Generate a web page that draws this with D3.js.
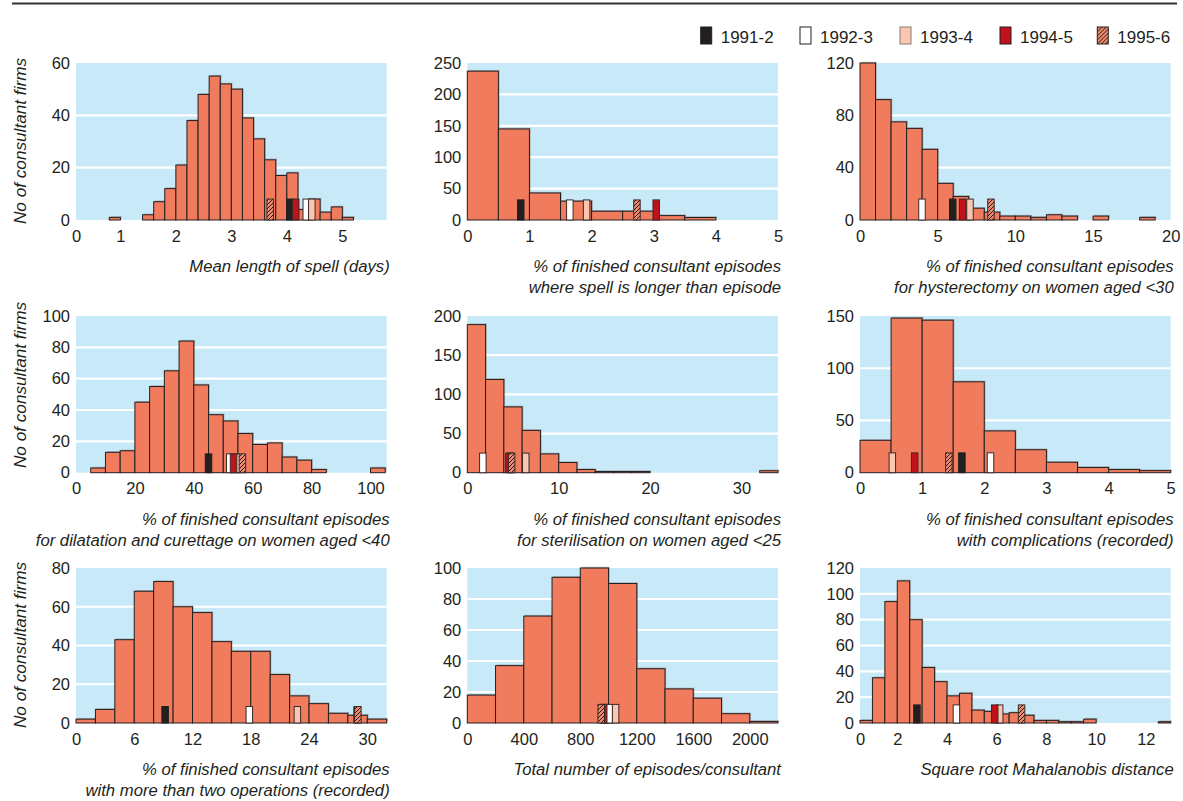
<!DOCTYPE html>
<html>
<head>
<meta charset="utf-8">
<script src="https://cdn.jsdelivr.net/npm/d3@7"></script>
<style>
  body { margin: 0; background: #fff; }
  text { font-family: "Liberation Sans", Arial, sans-serif; fill: #231f20; }
  .tick text { font-size: 16.5px; }
  .xtitle { font-style: italic; font-size: 16.7px; }
  .ytitle { font-style: italic; font-size: 17.2px; }
  .legend text { font-size: 17px; }
</style>
</head>
<body>
<svg width="1183" height="801"></svg>
<script>
// Years shown as small marker bars
const years = ["1991-2", "1992-3", "1993-4", "1994-5", "1995-6"];

// Panel 1 - mean length of spell
const spellStarts = [0.8, 1.4, 1.6, 1.8, 2.0, 2.2, 2.4, 2.6, 2.8, 3.0, 3.2, 3.4, 3.6, 3.8, 4.0, 4.2, 4.4, 4.6, 4.8, 5.0];
const spellCounts = [1, 2, 7, 12, 21, 38, 48, 55, 52, 50, 39, 31, 23, 17, 18, 4, 8, 3, 5, 1];
const spellYears = [4.06, 4.35, 4.45, 4.16, 3.70];
const spellTicks = [0.2, 1, 2, 3, 4, 5];
const spellTickLabels = ["0", "1", "2", "3", "4", "5"];

// Panel 2 - spell longer than episode
const longerStarts = [0, 0.5, 1, 1.5, 2, 2.5, 3, 3.5];
const longerCounts = [237, 145, 43, 30, 14, 14, 7, 4];
const longerYears = [0.86, 1.65, 1.92, 3.04, 2.73];
const longerTicks = [0, 1, 2, 3, 4, 5];

// Panel 3 - hysterectomy on women aged <30
const hystStarts = [0, 1, 2, 3, 4, 5, 6, 7, 8, 9, 10, 11, 12, 13, 15, 18];
const hystCounts = [120, 92, 75, 70, 54, 28, 18, 9, 6, 3, 3, 2, 4, 3, 3, 2];
const hystYears = [5.97, 3.99, 7.08, 6.61, 8.43];
const hystTicks = [0, 5, 10, 15, 20];

// Panel 4 - dilatation and curettage on women aged <40
const dcStarts = [5, 10, 15, 20, 25, 30, 35, 40, 45, 50, 55, 60, 65, 70, 75, 80, 100];
const dcCounts = [3, 13, 14, 45, 55, 65, 84, 56, 37, 33, 25, 18, 19, 10, 8, 2, 3];
const dcYears = [45.0, 52.2, 54.7, 53.5, 56.5];
const dcTicks = [0, 20, 40, 60, 80, 100];

// Panel 5 - sterilisation on women aged <25
const sterStarts = [0, 2, 4, 6, 8, 10, 12, 14, 16, 18, 32];
const sterCounts = [189, 119, 84, 54, 24, 13, 4, 1.5, 1.5, 1.5, 2.5];
const sterYears = [4.75, 1.7, 6.4, 4.55, 4.85];
const sterTicks = [0, 10, 20, 30];

// Panel 6 - complications
const compStarts = [0, 0.5, 1, 1.5, 2, 2.5, 3, 3.5, 4, 4.5];
const compCounts = [31, 148, 146, 87, 40, 22, 10, 5, 3, 2];
const compYears = [1.64, 2.10, 0.52, 0.88, 1.43];
const compTicks = [0, 1, 2, 3, 4, 5];

// Panel 7 - more than two operations
const opsStarts = [0, 2, 4, 6, 8, 10, 12, 14, 16, 18, 20, 22, 24, 26, 28, 30];
const opsCounts = [2, 7, 43, 68, 73, 60, 57, 42, 37, 37, 25, 14, 10, 5, 4, 2];
const opsYears = [9.18, 17.85, 22.8, 28.95, 29.03];
const opsTicks = [0, 6, 12, 18, 24, 30];

// Panel 8 - total episodes per consultant
const totalStarts = [0, 200, 400, 600, 800, 1000, 1200, 1400, 1600, 1800, 2000];
const totalCounts = [18, 37, 69, 94, 100, 90, 35, 22, 16, 6, 1];
const totalYears = [975, 1006, 1050, 966, 948];
const totalTicks = [0, 400, 800, 1200, 1600, 2000];

// Panel 9 - square root Mahalanobis distance
const mahaStarts = [0.5, 1.0, 1.5, 2.0, 2.5, 3.0, 3.5, 4.0, 4.5, 5.0, 5.5, 6.0, 6.5, 7.0, 7.5, 8.0, 8.5, 9.0, 9.5, 12.5];
const mahaCounts = [2, 35, 94, 110, 80, 43, 32, 21, 23, 10, 9, 7, 8, 6, 2, 2, 1, 1, 3, 1];
const mahaYears = [2.79, 4.38, 6.12, 5.92, 7.0];
const mahaTicks = [0.5, 2, 4, 6, 8, 10, 12];
const mahaTickLabels = ["0", "2", "4", "6", "8", "10", "12"];

const panels = [
  { starts: spellStarts, counts: spellCounts, bin: 0.2, marks: spellYears, markLevel: 8,
    xdom: [0.2, 5.8], xticks: spellTicks, xlabels: spellTickLabels, ymax: 60, ystep: 20,
    title: ["Mean length of spell (days)"] },
  { starts: longerStarts, counts: longerCounts, bin: 0.5, marks: longerYears, markLevel: 32,
    xdom: [0, 5], xticks: longerTicks, ymax: 250, ystep: 50,
    title: ["% of finished consultant episodes", "where spell is longer than episode"] },
  { starts: hystStarts, counts: hystCounts, bin: 1, marks: hystYears, markLevel: 16,
    xdom: [0, 20], xticks: hystTicks, ymax: 120, ystep: 40,
    title: ["% of finished consultant episodes", "for hysterectomy on women aged <30"] },
  { starts: dcStarts, counts: dcCounts, bin: 5, marks: dcYears, markLevel: 12,
    xdom: [0, 105.5], xticks: dcTicks, ymax: 100, ystep: 20,
    title: ["% of finished consultant episodes", "for dilatation and curettage on women aged <40"] },
  { starts: sterStarts, counts: sterCounts, bin: 2, marks: sterYears, markLevel: 25,
    xdom: [0, 34], xticks: sterTicks, ymax: 200, ystep: 50,
    title: ["% of finished consultant episodes", "for sterilisation on women aged <25"] },
  { starts: compStarts, counts: compCounts, bin: 0.5, marks: compYears, markLevel: 19,
    xdom: [0, 5], xticks: compTicks, ymax: 150, ystep: 50,
    title: ["% of finished consultant episodes", "with complications (recorded)"] },
  { starts: opsStarts, counts: opsCounts, bin: 2, marks: opsYears, markLevel: 8.5,
    xdom: [0, 32], xticks: opsTicks, ymax: 80, ystep: 20,
    title: ["% of finished consultant episodes", "with more than two operations (recorded)"] },
  { starts: totalStarts, counts: totalCounts, bin: 200, marks: totalYears, markLevel: 12,
    xdom: [0, 2200], xticks: totalTicks, ymax: 100, ystep: 20,
    title: ["Total number of episodes/consultant"] },
  { starts: mahaStarts, counts: mahaCounts, bin: 0.5, marks: mahaYears, markLevel: 14,
    xdom: [0.5, 13], xticks: mahaTicks, xlabels: mahaTickLabels, ymax: 120, ystep: 20,
    title: ["Square root Mahalanobis distance"] }
];

const svg = d3.select("svg");

// colours
const barFill = "#f17b5d",
  plotBg = "#c8eaf8",
  ink = "#231f20";
const yearFill = ["#231f20", "#ffffff", "#f9c6b1", "#c1121c", "url(#hatch)"];

// hatch pattern for 1995-6
const defs = svg.append("defs");
const pat = defs.append("pattern")
  .attr("id", "hatch")
  .attr("patternUnits", "userSpaceOnUse")
  .attr("width", 4).attr("height", 4);
pat.append("rect").attr("width", 4).attr("height", 4).attr("fill", "#f0866a");
pat.append("path").attr("d", "M-1,1 l2,-2 M0,4 l4,-4 M3,5 l2,-2")
  .attr("stroke", ink).attr("stroke-width", 1);

// top rule
svg.append("line")
  .attr("x1", 12).attr("x2", 1177).attr("y1", 3.5).attr("y2", 3.5)
  .attr("stroke", "#333").attr("stroke-width", 2);

// layout of the 3x3 grid
const colX = [76, 467.3, 860],
  plotW = 310.7,
  rowY = [[63, 220], [316, 472.7], [568, 723]],
  yTitleMid = [141, 385, 645];

panels.forEach(function(p, i) {
  const col = i % 3, row = Math.floor(i / 3);
  const x0 = colX[col], top = rowY[row][0], bottom = rowY[row][1];

  const x = d3.scaleLinear().domain(p.xdom).range([x0, x0 + plotW]);
  const y = d3.scaleLinear().domain([0, p.ymax]).range([bottom, top]);
  const yticks = d3.range(0, p.ymax + 0.001, p.ystep);

  const g = svg.append("g").attr("class", "panel");

  g.append("rect")
    .attr("x", x0).attr("y", top)
    .attr("width", plotW).attr("height", bottom - top)
    .attr("fill", plotBg);

  g.selectAll("line.grid")
    .data(yticks.filter(function(d) { return d > 0 && d < p.ymax; }))
    .enter().append("line")
    .attr("class", "grid")
    .attr("x1", x0).attr("x2", x0 + plotW)
    .attr("y1", function(d) { return y(d); })
    .attr("y2", function(d) { return y(d); })
    .attr("stroke", "#fff").attr("stroke-width", 2.2);

  const bins = p.starts.map(function(s, k) { return { x0: s, x1: s + p.bin, n: p.counts[k] }; });

  // faint shadow behind the bars
  g.selectAll("rect.shadow")
    .data(bins).enter().append("rect")
    .attr("class", "shadow")
    .attr("x", function(d) { return x(d.x0) + 1.2; })
    .attr("y", function(d) { return y(d.n) - 1.2; })
    .attr("width", function(d) { return x(d.x1) - x(d.x0); })
    .attr("height", function(d) { return y(0) - y(d.n); })
    .attr("fill", "#7d6f6b").attr("opacity", 0.45);

  g.selectAll("rect.bar")
    .data(bins).enter().append("rect")
    .attr("class", "bar")
    .attr("x", function(d) { return x(d.x0); })
    .attr("y", function(d) { return y(d.n); })
    .attr("width", function(d) { return x(d.x1) - x(d.x0); })
    .attr("height", function(d) { return y(0) - y(d.n); })
    .attr("fill", barFill)
    .attr("stroke", ink).attr("stroke-width", 1);

  // year markers
  const mw = 6.5;
  g.selectAll("rect.mark")
    .data(p.marks).enter().append("rect")
    .attr("class", "mark")
    .attr("x", function(d) { return x(d) - mw / 2; })
    .attr("y", y(p.markLevel))
    .attr("width", mw)
    .attr("height", y(0) - y(p.markLevel))
    .attr("fill", function(d, k) { return yearFill[k]; })
    .attr("stroke", function(d, k) { return k === 0 ? ink : "#3a2a28"; })
    .attr("stroke-width", 1);

  // axes
  const xAxis = d3.axisBottom(x)
    .tickValues(p.xticks)
    .tickSize(0).tickPadding(10)
    .tickFormat(function(d, k) { return p.xlabels ? p.xlabels[k] : d3.format("d")(d); });
  g.append("g")
    .attr("transform", "translate(0," + bottom + ")")
    .call(xAxis)
    .call(function(a) { a.select(".domain").remove(); });

  const yAxis = d3.axisLeft(y)
    .tickValues(yticks)
    .tickSize(0).tickPadding(6)
    .tickFormat(d3.format("d"));
  g.append("g")
    .attr("transform", "translate(" + x0 + ",0)")
    .call(yAxis)
    .call(function(a) { a.select(".domain").remove(); });

  g.selectAll(".tick text").attr("fill", ink);

  // x title, right aligned
  const tx = g.append("text")
    .attr("class", "xtitle")
    .attr("text-anchor", "end")
    .attr("x", x0 + plotW + 3)
    .attr("y", bottom + 52);
  p.title.forEach(function(line, k) {
    tx.append("tspan")
      .attr("x", x0 + plotW + 3)
      .attr("dy", k === 0 ? 0 : 21)
      .text(line);
  });

  if (col === 0) {
    g.append("text")
      .attr("class", "ytitle")
      .attr("text-anchor", "middle")
      .attr("transform", "translate(26," + yTitleMid[row] + ") rotate(-90)")
      .text("No of consultant firms");
  }
});

// legend
const legX = [700.7, 800, 900, 1000, 1097.3];
const legend = svg.append("g").attr("class", "legend");
const item = legend.selectAll("g")
  .data(years).enter().append("g")
  .attr("transform", function(d, k) { return "translate(" + legX[k] + ",0)"; });
item.append("rect")
  .attr("x", 0).attr("y", 27)
  .attr("width", 11).attr("height", 17)
  .attr("fill", function(d, k) { return yearFill[k]; })
  .attr("stroke", function(d, k) { return k === 2 ? "#8a7a76" : ink; })
  .attr("stroke-width", 1);
item.append("text")
  .attr("x", 20).attr("y", 42.5)
  .text(function(d) { return d; });
</script>
</body>
</html>
